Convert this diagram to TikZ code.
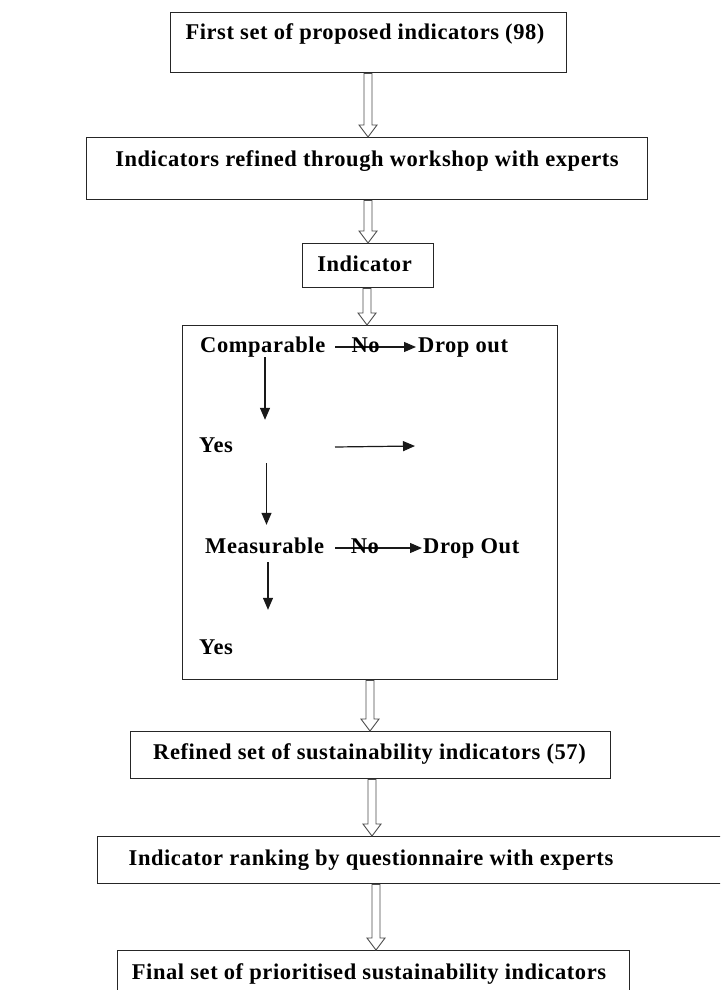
\documentclass[tikz,border=0pt]{standalone}
\usepackage{fontspec}
\setmainfont{Liberation Serif}[LetterSpace=2.5]
\usetikzlibrary{arrows.meta,calc}

% Hollow block arrow running straight down from one box to the next at a given x
\newcommand\hollowarrow[3]{%
  \draw[hollow] let \p1=(#1.south -| #3), \p2=(#2.north -| #3) in
    (\x1-4pt,\y1) -- (\x1-4pt,\y2+12pt) -- (\x1-9pt,\y2+12pt) -- (\x2,\y2)
    -- (\x1+9pt,\y2+12pt) -- (\x1+4pt,\y2+12pt) -- (\x1+4pt,\y1) -- cycle;}

\begin{document}
\begin{tikzpicture}[x=1pt,y=-1pt,
  box/.style={draw=black!85, line width=1.3pt, inner sep=0pt, anchor=north west},
  txt/.style={font=\bfseries\fontsize{22.5}{27}\selectfont, inner sep=0pt,
              text height=15pt, text depth=5pt},
  flow/.style={line width=1.2pt, draw=black!90,
               -{Triangle[length=12pt,width=10pt]}},
  hollow/.style={draw=black!70, fill=white, line width=0.9pt}]

\useasboundingbox (0,0) rectangle (720,990);
\clip (0,0) rectangle (720,990);

% main stages
\node[box, minimum width=396pt, minimum height=60pt] (b1) at (170,12) {};
\node[txt] (t1) at (365,35) {First set of proposed indicators (98)};

\node[box, minimum width=561pt, minimum height=62pt] (b2) at (86,137) {};
\node[txt] (t2) at (367,161) {Indicators refined through workshop with experts};

\node[box, minimum width=131pt, minimum height=44pt] (b3) at (302,243) {};
\node[txt] (t3) at (364.5,266) {Indicator};

\node[box, minimum width=375pt, minimum height=354pt] (b4) at (182,325) {};

\node[box, minimum width=480pt, minimum height=47pt] (b5) at (130,731) {};
\node[txt] (t5) at (369.5,754) {Refined set of sustainability indicators (57)};

\node[box, minimum width=640pt, minimum height=47pt] (b6) at (97,836) {};
\node[txt] (t6) at (371,860) {Indicator ranking by questionnaire with experts};

\node[box, minimum width=512pt, minimum height=60pt] (b7) at (117,950) {};
\node[txt] (t7) at (369,974) {Final set of prioritised sustainability indicators};

% screening inside the indicator box
\node[txt, anchor=west] (cmp) at (200,347) {Comparable};
\node[txt, anchor=west] (do1) at (418,347) {Drop out};
\node[txt, anchor=west] (yes1) at (199,447) {Yes};
\node[txt, anchor=west] (mea) at (205,548) {Measurable};
\node[txt, anchor=west] (do2) at (423,548) {Drop Out};
\node[txt, anchor=west] (yes2) at (199,649) {Yes};

\coordinate (ax1) at (265,0);
\coordinate (ax2) at (266.5,0);
\coordinate (ax3) at (268,0);
\coordinate (nx) at (335,0);
\coordinate (yesend) at (415,446);

\draw[flow, shorten >=2pt] (cmp.east -| nx) -- (do1.west)
  node[txt, pos=0.37] {No};
\draw[flow] (cmp.south -| ax1) -- ($(yes1.north -| ax1)+(0,-17)$);
\draw[flow] (yes1.east -| nx) -- (yesend);
\draw[flow] ($(yes1.south -| ax2)+(0,6)$) -- ($(mea.north -| ax2)+(0,-13)$);
\draw[flow, shorten >=1pt] (mea.east -| nx) -- (do2.west)
  node[txt, pos=0.34] {No};
\draw[flow] ($(mea.south -| ax3)+(0,4)$) -- ($(yes2.north -| ax3)+(0,-29)$);

% block arrows between the stages
\coordinate (h1) at (368,0);
\coordinate (h2) at (367,0);
\coordinate (h3) at (370,0);
\coordinate (h4) at (372,0);
\coordinate (h5) at (376,0);
\hollowarrow{b1}{b2}{h1}
\hollowarrow{b2}{b3}{h1}
\hollowarrow{b3}{b4}{h2}
\hollowarrow{b4}{b5}{h3}
\hollowarrow{b5}{b6}{h4}
\hollowarrow{b6}{b7}{h5}
\end{tikzpicture}
\end{document}
